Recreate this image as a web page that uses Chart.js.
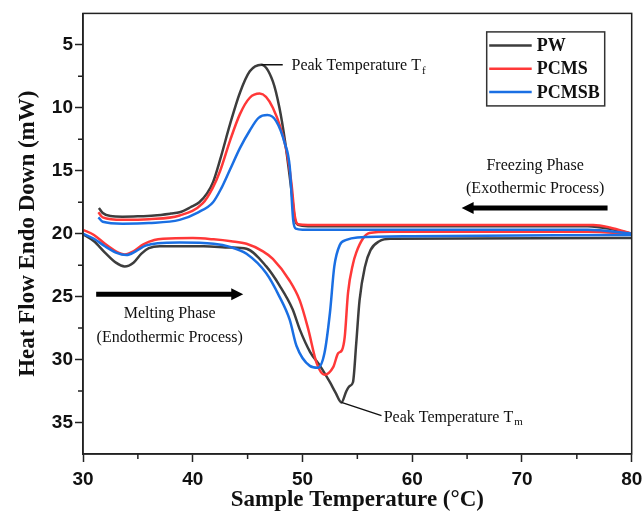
<!DOCTYPE html>
<html lang="en">
<head>
  <meta charset="UTF-8">
  <title>DSC Heat Flow</title>
  <script src="https://cdn.jsdelivr.net/npm/chart.js"></script>
  <style>
    html, body { margin: 0; padding: 0; background: #fff; }
    .chart-box { width: 642px; height: 525px; }
  </style>
</head>
<body>

  <div class="chart-box">
    <canvas id="dscChart" width="642" height="525"></canvas>
  </div>

  <script>
    // tick values
    const xTicks = [30, 40, 50, 60, 70, 80];
    const yTicks = [5, 10, 15, 20, 25, 30, 35];
    const xMinor = [35, 45, 55, 65, 75];
    const yMinor = [7.5, 12.5, 17.5, 22.5, 27.5, 32.5];

    const seriesNames = ['PW', 'PCMS', 'PCMSB'];
    const seriesColors = ['#3d3d3d', '#ff3838', '#1a6fe3'];

    // freezing (upper) curves, [temperature, heat flow]
    const pwFreezing = [
      [31.45, 17.95], [31.8, 18.35], [32.5, 18.6], [33.6, 18.65], [35, 18.62],
      [36.5, 18.55], [38, 18.4], [38.8, 18.3], [39.8, 17.9], [40.6, 17.5],
      [41.3, 16.8], [41.85, 15.9], [42.5, 14.1], [43.4, 11.3], [44.3, 8.8],
      [45.2, 7.1], [46.26, 6.58], [47.3, 7.9], [47.9, 10.0], [48.4, 12.6],
      [49.0, 16.6], [49.3, 18.8], [49.6, 19.3], [50.5, 19.4], [76, 19.4],
      [78, 19.6], [80, 20.0]
    ];
    const pcmsFreezing = [
      [31.4, 18.3], [31.8, 18.7], [33.6, 18.9], [36, 18.85], [38.8, 18.55],
      [40.9, 17.6], [41.8, 16.4], [42.5, 15.0], [43.4, 12.6], [44.3, 10.5],
      [45.2, 9.2], [46.1, 8.87], [47.3, 10.0], [48.54, 13.4], [49.0, 16.05],
      [49.3, 18.6], [49.6, 19.25], [50.5, 19.3], [76.5, 19.3], [78, 19.5],
      [80, 20.0]
    ];
    const pcmsbFreezing = [
      [31.4, 18.7], [31.8, 19.05], [33.6, 19.2], [36, 19.15], [38.8, 18.9],
      [40.5, 18.3], [41.85, 17.5], [42.6, 16.4], [43.4, 14.9], [44.3, 13.2],
      [45.2, 11.8], [46.0, 10.8], [46.8, 10.58], [47.6, 11.05], [48.38, 12.8],
      [48.84, 14.7], [49.15, 18.9], [49.4, 19.6], [50, 19.68], [76, 19.68],
      [80, 20.0]
    ];

    // melting (lower) curves
    const pwMelting = [
      [30, 20.05], [31, 20.6], [32, 21.5], [33, 22.3], [33.8, 22.6],
      [34.6, 22.3], [35.3, 21.6], [36, 21.15], [37, 21.0], [38.8, 21.0],
      [41, 21.0], [43.4, 21.1], [44.9, 21.2], [46.7, 22.6], [47.9, 24.1],
      [49.1, 26.0], [49.75, 27.6], [50.7, 29.4], [51.6, 30.5], [52.5, 31.8],
      [53.0, 32.6], [53.55, 33.4], [54.0, 32.5], [54.3, 32.1], [54.6, 31.8],
      [54.9, 28.7], [55.2, 25.3], [55.7, 22.6], [56.2, 21.3], [57.0, 20.6],
      [58, 20.4], [80, 20.35]
    ];
    const pcmsMelting = [
      [30, 19.7], [31, 20.1], [32, 20.8], [33, 21.4], [33.8, 21.65],
      [34.6, 21.4], [35.5, 20.85], [36.5, 20.5], [37.3, 20.4], [40, 20.35],
      [41.9, 20.45], [43.5, 20.6], [44.9, 20.8], [46.4, 21.4], [47.3, 22.0],
      [48.8, 23.7], [49.75, 25.3], [50.5, 27.5], [51.3, 30.3], [52.0, 31.2],
      [52.8, 30.6], [53.25, 29.5], [53.6, 29.25], [53.85, 28.2], [54.15, 24.7],
      [54.6, 22.4], [54.9, 21.5], [55.5, 20.4], [56.1, 19.95], [58, 19.85],
      [76, 19.85], [80, 20.0]
    ];
    const pcmsbMelting = [
      [30, 20.0], [31, 20.4], [32, 21.0], [33, 21.5], [33.95, 21.7],
      [34.8, 21.4], [35.7, 20.95], [36.8, 20.75], [38.8, 20.7], [41.9, 20.8],
      [43.4, 21.05], [44.9, 21.6], [46.7, 23.15], [47.9, 25.0], [48.84, 26.85],
      [49.45, 28.9], [50.67, 30.5], [51.4, 30.65], [52.0, 29.5], [52.5, 26.3],
      [52.9, 22.6], [53.4, 20.9], [54.0, 20.5], [55, 20.3], [60, 20.2],
      [80, 20.1]
    ];

    const curves = [
      [pwFreezing, pwMelting],
      [pcmsFreezing, pcmsMelting],
      [pcmsbFreezing, pcmsbMelting]
    ];

    const datasets = [];
    curves.forEach((pair, i) => {
      pair.forEach(points => {
        datasets.push({
          label: seriesNames[i],
          data: points.map(p => ({ x: p[0], y: p[1] })),
          borderColor: seriesColors[i],
          borderWidth: 2.5,
          pointRadius: 0,
          fill: false,
          cubicInterpolationMode: 'monotone',
          order: 2 - i  // blue on top
        });
      });
    });

    const SERIF = '"Liberation Serif", "Times New Roman", serif';
    const SANS = '"Liberation Sans", Arial, sans-serif';

    function arrow(ctx, x1, x2, y) {
      const dir = Math.sign(x2 - x1);
      ctx.beginPath();
      ctx.lineWidth = 5;
      ctx.moveTo(x1, y);
      ctx.lineTo(x2 - dir * 9, y);
      ctx.stroke();
      ctx.beginPath();
      ctx.moveTo(x2, y);
      ctx.lineTo(x2 - dir * 12, y - 6);
      ctx.lineTo(x2 - dir * 12, y + 6);
      ctx.closePath();
      ctx.fill();
    }

    function subLabel(ctx, text, sub, x, y) {
      ctx.font = '16px ' + SERIF;
      ctx.textAlign = 'left';
      ctx.textBaseline = 'middle';
      ctx.fillText(text, x, y);
      const w = ctx.measureText(text).width;
      ctx.font = '11px ' + SERIF;
      ctx.fillText(sub, x + w + 1, y + 5);
    }

    const extras = {
      id: 'extras',
      afterDraw(chart) {
        const { ctx, chartArea: a, scales: { x, y } } = chart;
        const px = v => x.getPixelForValue(v);
        const py = v => y.getPixelForValue(v);
        ctx.save();

        // frame
        ctx.strokeStyle = '#222';
        ctx.lineWidth = 1.5;
        ctx.strokeRect(a.left, a.top, a.width, a.height);

        // minor ticks
        ctx.beginPath();
        xMinor.forEach(v => { ctx.moveTo(px(v), a.bottom); ctx.lineTo(px(v), a.bottom + 5); });
        yMinor.forEach(v => { ctx.moveTo(a.left, py(v)); ctx.lineTo(a.left - 5, py(v)); });
        ctx.stroke();

        // peak leaders
        ctx.strokeStyle = '#111';
        ctx.lineWidth = 1.5;
        ctx.beginPath();
        ctx.moveTo(px(46.26), py(6.58));
        ctx.lineTo(px(48.2), py(6.58));
        ctx.moveTo(px(53.55), py(33.4));
        ctx.lineTo(px(57.2), py(34.45));
        ctx.stroke();

        ctx.fillStyle = '#111';
        subLabel(ctx, 'Peak Temperature T', 'f', px(49.0), py(6.7));
        subLabel(ctx, 'Peak Temperature T', 'm', px(57.4), py(34.6));

        // phase notes
        ctx.font = '16px ' + SERIF;
        ctx.textAlign = 'center';
        ctx.textBaseline = 'middle';
        ctx.fillText('Freezing Phase', px(71.2), py(14.6));
        ctx.fillText('(Exothermic Process)', px(71.2), py(16.45));
        ctx.fillText('Melting Phase', px(37.9), py(26.4));
        ctx.fillText('(Endothermic Process)', px(37.9), py(28.3));

        ctx.strokeStyle = '#000';
        ctx.fillStyle = '#000';
        arrow(ctx, px(77.8), px(64.5), py(17.95));
        arrow(ctx, px(31.2), px(44.6), py(24.8));

        // legend box
        const lx = a.right - 145, ly = a.top + 18.5;
        ctx.lineWidth = 1.5;
        ctx.strokeStyle = '#333';
        ctx.strokeRect(lx, ly, 118, 74);
        ctx.font = 'bold 18px ' + SERIF;
        ctx.textAlign = 'left';
        seriesNames.forEach((name, i) => {
          const ry = ly + 13.5 + i * 23.3;
          ctx.strokeStyle = seriesColors[i];
          ctx.lineWidth = 2.5;
          ctx.beginPath();
          ctx.moveTo(lx + 2.5, ry);
          ctx.lineTo(lx + 45, ry);
          ctx.stroke();
          ctx.fillStyle = '#111';
          ctx.fillText(name, lx + 50, ry + 1);
        });

        ctx.restore();
      }
    };

    const ctx = document.getElementById('dscChart').getContext('2d');
    const dscChart = new Chart(ctx, {
      type: 'line',
      data: { datasets: datasets },
      options: {
        responsive: false,
        animation: false,
        layout: { padding: { top: 12, right: 0, left: 0, bottom: 0 } },
        plugins: {
          legend: { display: false },
          tooltip: { enabled: false }
        },
        scales: {
          x: {
            type: 'linear',
            min: 30,
            max: 80,
            afterFit: s => { s.height = 71; s.paddingRight = 10.3; s.paddingLeft = 0; },
            afterBuildTicks: s => { s.ticks = xTicks.map(v => ({ value: v })); },
            grid: { drawOnChartArea: false, tickLength: 8, tickColor: '#222', tickWidth: 1.5 },
            border: { color: '#222', width: 1.5 },
            ticks: {
              color: '#111',
              padding: 6,
              font: { family: SANS, size: 19, weight: 'bold' }
            },
            title: {
              display: true,
              text: 'Sample Temperature (°C)',
              color: '#111',
              padding: { top: 0, bottom: 11 },
              font: { family: SERIF, size: 23, weight: 'bold' }
            }
          },
          y: {
            type: 'linear',
            reverse: true,
            min: 2.5,
            max: 37.5,
            afterFit: s => { s.width = 83; },
            afterBuildTicks: s => { s.ticks = yTicks.map(v => ({ value: v })); },
            grid: { drawOnChartArea: false, tickLength: 8, tickColor: '#222', tickWidth: 1.5 },
            border: { color: '#222', width: 1.5 },
            ticks: {
              color: '#111',
              padding: 2,
              font: { family: SANS, size: 19, weight: 'bold' }
            },
            title: {
              display: true,
              text: 'Heat Flow Endo Down (mW)',
              color: '#111',
              padding: { top: 14, bottom: 0 },
              font: { family: SERIF, size: 23, weight: 'bold' }
            }
          }
        }
      },
      plugins: [extras]
    });
  </script>

</body>
</html>
